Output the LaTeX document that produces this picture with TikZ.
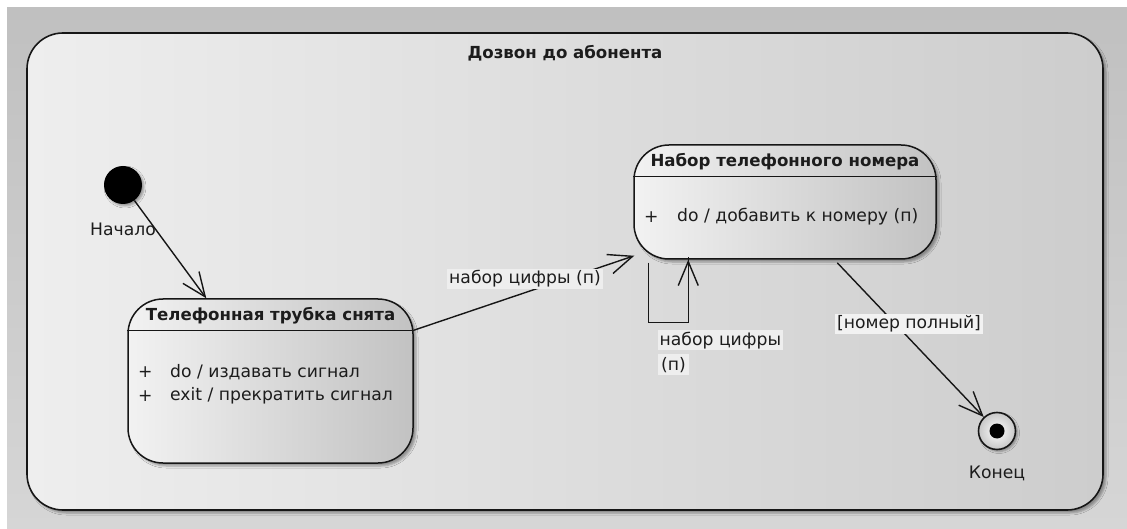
\documentclass[tikz,border=0pt]{standalone}
\usepackage{fontspec}
\setmainfont{DejaVu Sans}
\usetikzlibrary{arrows.meta,shadows.blur}

\definecolor{bgtop}{HTML}{C0C0C0}
\definecolor{bgbot}{HTML}{D6D6D6}
\definecolor{frameL}{HTML}{EEEEEE}
\definecolor{frameM}{HTML}{E8E8E8}
\definecolor{frameR}{HTML}{CDCDCD}
\definecolor{stateL}{HTML}{F2F2F2}
\definecolor{stateM}{HTML}{E6E6E6}
\definecolor{stateR}{HTML}{C2C2C2}
\definecolor{ink}{HTML}{161616}
\definecolor{txt}{HTML}{1C1C1C}

\begin{document}
\begin{tikzpicture}[x=1pt,y=-1pt,
  font=\fontsize{17.2}{20}\selectfont,
  every node/.style={text=txt},
  framebox/.style={draw=ink, line width=1.6pt, rounded corners=36pt,
    left color=frameL, middle color=frameM, right color=frameR,
    blur shadow={shadow xshift=3pt, shadow yshift=-3pt, shadow blur radius=2pt, shadow opacity=35}},
  statebox/.style={draw=ink, line width=1.5pt, rounded corners=35pt,
    left color=stateL, middle color=stateM, right color=stateR,
    blur shadow={shadow xshift=3pt, shadow yshift=-3pt, shadow blur radius=2pt, shadow opacity=35}},
  divider/.style={draw=ink, line width=1.3pt},
  trans/.style={draw=ink, line width=1.4pt, -{Straight Barb[length=24pt,width=20pt,line width=1.4pt]}},
  loopline/.style={draw=ink, line width=1.4pt},
  lbl/.style={fill=#1, inner sep=2pt},
  bold/.style={font=\fontsize{16.6}{20}\selectfont\bfseries},
  entry/.style={anchor=west, inner sep=0pt}
]
\useasboundingbox (0,0) rectangle (1127,529);

% canvas
\fill[white] (0,0) rectangle (1127,529);
\shade[top color=bgtop, bottom color=bgbot] (7,8) rectangle (1127,529);

% composite state
\node[framebox, minimum width=1076pt, minimum height=477pt, inner sep=0pt] (dlg) at (565,271.5) {};
\node[bold] (dlgtitle) at (565,53) {Дозвон до абонента};

% initial pseudostate
\node[circle, fill=black, minimum size=38pt, inner sep=0pt,
  blur shadow={shadow xshift=2pt, shadow yshift=-2pt, shadow blur radius=2pt, shadow opacity=35}] (init) at (123,185) {};

% state: handset off hook
\node[statebox, minimum width=285pt, minimum height=164pt, inner sep=0pt] (s1) at (270.5,381) {};
\node[bold] (s1title) at (270.5,316) {Телефонная трубка снята};
\draw[divider] ([yshift=-32pt]s1.north west) -- ([yshift=-32pt]s1.north east);
\node[entry] (s1p1) at (138,372) {+};
\node[entry] (s1e1) at (170,372) {do / издавать сигнал};
\node[entry] (s1p2) at (138,396) {+};
\node[entry] (s1e2) at (170,396) {exit / прекратить сигнал};

% state: dialling
\node[statebox, minimum width=302pt, minimum height=114pt, inner sep=0pt] (s2) at (785,202) {};
\node[bold] (s2title) at (785,162) {Набор телефонного номера};
\draw[divider] ([yshift=-32pt]s2.north west) -- ([yshift=-32pt]s2.north east);
\node[entry] (s2p1) at (644,217) {+};
\node[entry] (s2e1) at (677,217) {do / добавить к номеру (п)};

% final state
\node[circle, draw=ink, line width=1.6pt, inner color=white, outer color=white!78!black,
  minimum size=37pt, inner sep=0pt,
  blur shadow={shadow xshift=2pt, shadow yshift=-2pt, shadow blur radius=2pt, shadow opacity=35}] (fin) at (997,431) {};
\node[circle, fill=black, minimum size=15pt, inner sep=0pt] (findot) at (fin) {};

% transitions
\draw[trans] (init) -- ([xshift=79pt]s1.north west);
\node (initlbl) at (123,229) {Начало};

\draw[trans] ([yshift=-32pt]s1.north east) -- ([shift={(1pt,4pt)}]s2.south west);
\node[lbl=frameL] (t1lbl) at (525,279) {набор цифры (п)};

\draw[loopline] ([shift={(15pt,-3pt)}]s2.south west) -- ++(0,60) -| ([xshift=55pt]s2.south west)
  [trans] -- ([xshift=55pt]s2.south west);
\node[anchor=north west, align=left, inner sep=0pt, font=\fontsize{17.2}{25}\selectfont] (looplbl) at (658,330)
  {\setlength\fboxsep{1.5pt}\colorbox{frameL}{набор цифры}\\\colorbox{frameL}{(п)}};

\draw[trans] ([shift={(204pt,-3pt)}]s2.south west) -- (fin);
\node[lbl=white!95!black] (t3lbl) at (909,324) {[номер полный]};
\node (finlbl) at (997,473) {Конец};
\end{tikzpicture}
\end{document}
